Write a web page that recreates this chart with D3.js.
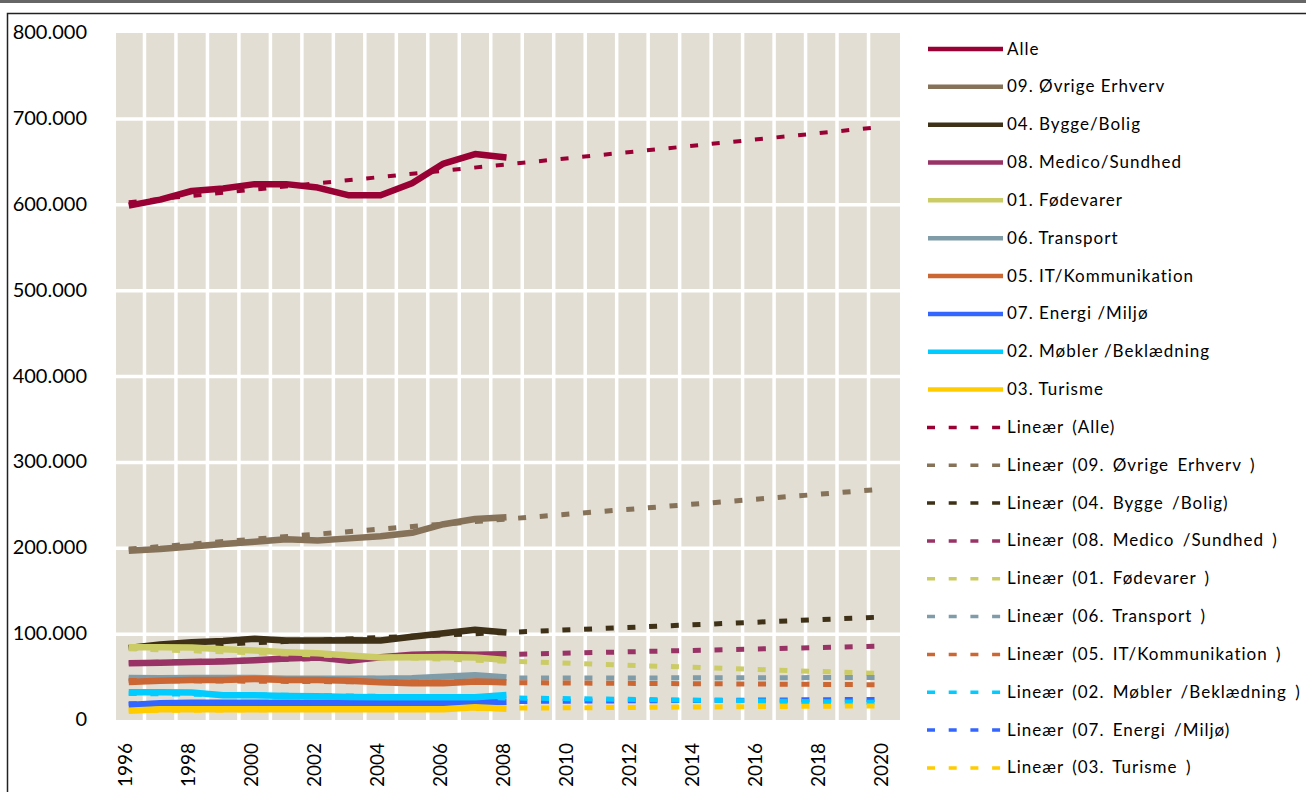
<!DOCTYPE html>
<html>
<head>
<meta charset="utf-8">
<script src="https://cdn.jsdelivr.net/npm/d3@7"></script>
<style>
  body { margin: 0; background: #fff; }
  svg text { font-family: Lato, "Open Sans", sans-serif; fill: #000; }
</style>
</head>
<body>
<div id="container"></div>
<script>
// Beskæftigelse pr. erhverv 1996-2008 med lineære tendenslinjer til 2020

const years = d3.range(1996, 2021)
const dataYears = d3.range(1996, 2009)
const yTicks = [0, 100000, 200000, 300000, 400000, 500000, 600000, 700000, 800000]

const names = ["Alle", "09. Øvrige Erhverv", "04. Bygge/Bolig", "08. Medico/Sundhed", "01. Fødevarer",
    "06. Transport", "05. IT/Kommunikation", "07. Energi /Miljø", "02. Møbler /Beklædning", "03. Turisme"]
const colors = ["#990033", "#867159", "#3e3118", "#993366", "#cccc66",
    "#7f9ca8", "#cc6633", "#3366ff", "#00ccff", "#ffcc00"]

// values 1996..2008
const alle = [599000, 606000, 616000, 619000, 624000, 624000, 620000, 611000, 611000, 625000, 648000, 659000, 655000]
const oevrige = [197000, 199000, 202000, 205000, 207500, 210500, 209000, 211500, 214000, 218000, 228000, 234000, 236000]
const bygge = [84000, 88000, 90500, 92000, 94500, 92500, 92500, 93000, 92500, 97000, 101000, 105000, 102000]
const medico = [66000, 66800, 67600, 68000, 69600, 71500, 72700, 69000, 73000, 76000, 77000, 76000, 76500]
const foedevarer = [84800, 84800, 84400, 82400, 80800, 78900, 77800, 75000, 72700, 73000, 73500, 72700, 70000]
const transport = [49000, 48500, 49000, 49000, 49000, 48000, 48000, 48000, 48000, 48500, 50500, 52000, 49500]
const itkomm = [44300, 45800, 46600, 46600, 47800, 46600, 46600, 45800, 44000, 42800, 42800, 44700, 44000]
const energi = [17500, 19400, 20200, 20200, 20200, 20200, 20200, 20200, 20200, 20200, 20200, 20500, 21300]
const moebler = [32300, 32300, 32000, 28800, 28800, 28000, 27600, 26800, 26400, 26400, 26400, 26400, 29000]
const turisme = [10800, 12400, 12400, 12400, 12400, 12400, 12400, 12400, 12400, 12400, 12400, 14800, 13000]

// linear trend lines: value at 1996 and at 2020
const trendStart = [603000, 199000, 84000, 66500, 83000, 48000, 46000, 19000, 31000, 11000]
const trendEnd = [691000, 269000, 120000, 86000, 54000, 49500, 41000, 24000, 20500, 16500]

const seriesValues = [alle, oevrige, bygge, medico, foedevarer, transport, itkomm, energi, moebler, turisme]
// legend order of the trend entries (as in the reference)
const trendLegendOrder = [0, 1, 2, 3, 4, 5, 6, 8, 7, 9]
const trendLabels = ["Lineær (Alle)", "Lineær (09. Øvrige Erhverv )", "Lineær (04. Bygge /Bolig)",
    "Lineær (08. Medico /Sundhed )", "Lineær (01. Fødevarer )", "Lineær (06. Transport )",
    "Lineær (05. IT/Kommunikation )", "Lineær (07. Energi /Miljø)", "Lineær (02. Møbler /Beklædning )",
    "Lineær (03. Turisme )"]

const width = 1306, height = 792
const plot = { left: 116, right: 900, top: 33, bottom: 720 }

const svg = d3.select("#container").append("svg")
    .attr("width", width)
    .attr("height", height)

// frame
svg.append("rect").attr("x", 0).attr("y", 0).attr("width", width).attr("height", 3).attr("fill", "#666")
svg.append("path")
    .attr("d", `M7.5,${height} V13.5 H${width}`)
    .attr("fill", "none").attr("stroke", "#222").attr("stroke-width", 1.5)

const x = d3.scaleBand().domain(years).range([113, plot.right]).padding(0)
const xc = (yr) => x(yr) + x.bandwidth() / 2
const y = d3.scaleLinear().domain([0, 800000]).range([plot.bottom, plot.top])

svg.append("rect")
    .attr("x", plot.left).attr("y", plot.top)
    .attr("width", plot.right - plot.left).attr("height", plot.bottom - plot.top)
    .attr("fill", "#e2ded4")

// white grid
const grid = svg.append("g").attr("stroke", "#fff").attr("stroke-width", 3.5)
grid.selectAll("line.v").data(years.slice(1)).enter().append("line")
    .attr("class", "v")
    .attr("x1", (d) => x(d)).attr("x2", (d) => x(d))
    .attr("y1", plot.top).attr("y2", plot.bottom)
grid.selectAll("line.h").data(yTicks.slice(1, -1)).enter().append("line")
    .attr("class", "h")
    .attr("x1", plot.left).attr("x2", plot.right)
    .attr("y1", (d) => y(d)).attr("y2", (d) => y(d))

// y axis labels
const fmt = (v) => v === 0 ? "0" : d3.format(",")(v).replace(/,/g, ".")
svg.append("g").selectAll("text").data(yTicks).enter().append("text")
    .attr("x", 87).attr("y", (d) => y(d) - 2)
    .attr("text-anchor", "end")
    .attr("dominant-baseline", "central")
    .style("font-size", "20px")
    .text(fmt)

// x axis labels (every second year, rotated)
svg.append("g").selectAll("text").data(years.filter((d) => d % 2 === 0)).enter().append("text")
    .attr("transform", (d) => `translate(${xc(d) - 4},743) rotate(-90)`)
    .attr("text-anchor", "end")
    .attr("dominant-baseline", "central")
    .style("font-size", "19px")
    .text((d) => d)

const line = d3.line()
    .x((d) => xc(d[0]))
    .y((d) => y(d[1]))

// data lines and trend lines, drawn per series in order
const series = svg.append("g")
seriesValues.forEach((vals, i) => {
    series.append("path")
        .datum(vals.map((v, k) => [dataYears[k], v]))
        .attr("d", line)
        .attr("fill", "none")
        .attr("stroke", colors[i])
        .attr("stroke-width", 6.5)
        .attr("stroke-linejoin", "round")
    series.append("path")
        .datum([[1996, trendStart[i]], [2020, trendEnd[i]]])
        .attr("d", line)
        .attr("fill", "none")
        .attr("stroke", colors[i])
        .attr("stroke-width", i === 0 ? 4 : 5)
        .attr("stroke-dasharray", "8,13.7")
})

// legend
const legend = svg.append("g").attr("id", "legend")
const legendItems = names.map((n, i) => ({ label: n, color: colors[i], dashed: false }))
    .concat(trendLegendOrder.map((i) => ({ label: trendLabels[i], color: colors[i], dashed: true })))

const row = legend.selectAll("g").data(legendItems).enter().append("g")
    .attr("transform", (d, i) => `translate(0,${49 + i * 37.84})`)

row.append("line")
    .attr("x1", (d) => d.dashed ? 927 : 928).attr("x2", 1003)
    .attr("y1", 0).attr("y2", 0)
    .attr("stroke", (d) => d.color)
    .attr("stroke-width", (d) => d.dashed ? 3.5 : 4.5)
    .attr("stroke-dasharray", (d) => d.dashed ? "8,13.7" : null)

row.append("text")
    .attr("x", 1007).attr("y", -1)
    .attr("dominant-baseline", "central")
    .style("font-size", "17px")
    .style("letter-spacing", "1px")
    .style("word-spacing", (d) => d.dashed ? "3px" : null)
    .text((d) => d.label)
</script>
</body>
</html>
